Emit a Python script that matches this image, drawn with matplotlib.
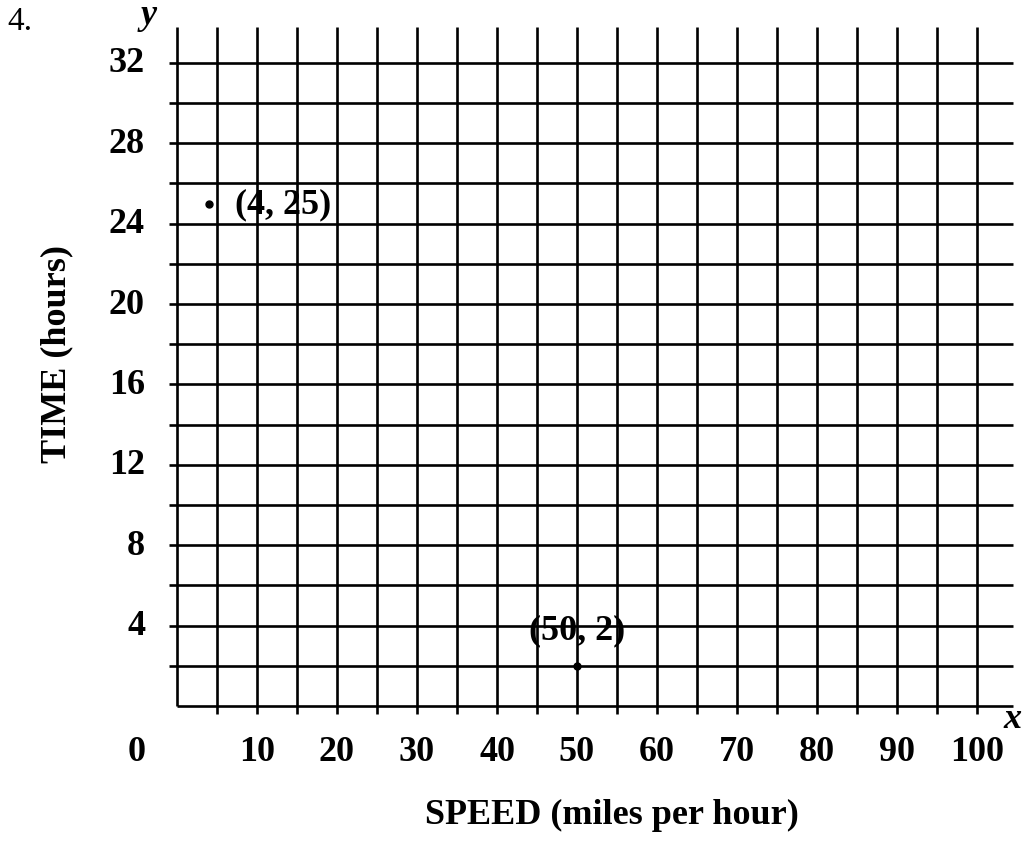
import matplotlib
matplotlib.use('Agg')
import matplotlib.pyplot as plt

# grid layout of the worksheet graph
x_lines = list(range(5, 105, 5))
y_lines = list(range(2, 34, 2))
x_ticks = [10, 20, 30, 40, 50, 60, 70, 80, 90, 100]
y_ticks = [4, 8, 12, 16, 20, 24, 28, 32]

points_x = [4, 50]
points_y = [25, 2]
point_labels = ['(4, 25)', '(50, 2)']

plt.rcParams['font.family'] = ['Liberation Serif', 'DejaVu Serif']
plt.rcParams['font.weight'] = 'bold'

W, H = 1023, 845
fig = plt.figure(figsize=(W / 100, H / 100), dpi=100)

# pixel mapping: x=0 -> 177px, 8 px/unit ; y=0 -> 707px, 20.1 px/unit
x0, sx = 177, 8.0
y0, sy = 707, 20.1
xmin, xmax = -1.2, 105.5
ymin, ymax = -0.6, 34.5
left = (x0 + xmin * sx) / W
right = (x0 + xmax * sx) / W
bottom = (H - (y0 - ymin * sy)) / H
top = (H - (y0 - ymax * sy)) / H
ax = fig.add_axes([left, bottom, right - left, top - bottom])
ax.set_xlim(xmin, xmax)
ax.set_ylim(ymin, ymax)
ax.axis('off')

lw = 1.9
ax.hlines(y_lines, -1.0, 104.5, color='black', lw=lw)
ax.hlines([0], 0, 104.5, color='black', lw=lw)
ax.vlines([0], 0, 33.8, color='black', lw=lw)
ax.vlines(x_lines, -0.4, 33.8, color='black', lw=lw)

ax.plot(points_x, points_y, 'o', color='black', ms=5)
ax.text(points_x[0] + 3.3, points_y[0], point_labels[0], fontsize=26,
        ha='left', va='center')
ax.text(points_x[1], points_y[1] + 1.8, point_labels[1], fontsize=26,
        ha='center', va='center')

for v in y_ticks:
    ax.text(-4, v, str(v), fontsize=26, ha='right', va='center')
for v in x_ticks:
    ax.text(v, -2.25, str(v), fontsize=26, ha='center', va='center')
ax.text(-5, -2.25, '0', fontsize=26, ha='center', va='center')

ax.text(104.4, -0.6, 'x', fontsize=26, style='italic', ha='center', va='center')
ax.text(-3.6, 34.4, 'y', fontsize=26, style='italic', ha='center', va='center')

fig.text(20 / W, 1 - 22 / H, '4.', fontsize=24, fontweight='normal',
         ha='center', va='center')
fig.text(57 / W, 1 - 354 / H, 'TIME (hours)', fontsize=26, rotation=90,
         ha='center', va='center')
fig.text(612 / W, 1 - 815 / H, 'SPEED (miles per hour)', fontsize=26,
         ha='center', va='center')

fig.savefig('out.png', dpi=100)
